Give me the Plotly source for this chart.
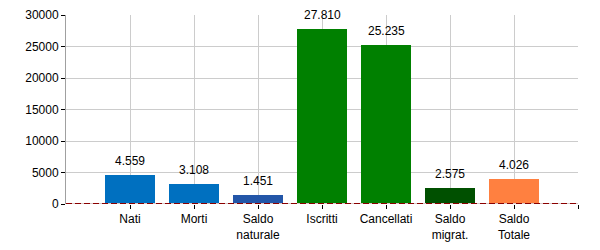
import plotly.graph_objects as go

categories = ["Nati", "Morti", "Saldo<br>naturale", "Iscritti", "Cancellati", "Saldo<br>migrat.", "Saldo<br>Totale"]
values = [4559, 3108, 1451, 27810, 25235, 2575, 4026]
colors = ["#0070C0", "#0070C0", "#2356A8", "#008000", "#008000", "#005000", "#FF8040"]
y_ticks = [0, 5000, 10000, 15000, 20000, 25000, 30000]

labels = [f"{v:,}".replace(",", ".") for v in values]
xs = list(range(len(categories)))

fig = go.Figure()
fig.add_trace(go.Bar(
    x=xs, y=values, marker=dict(color=colors, line=dict(width=0)),
    width=0.78, cliponaxis=True, hoverinfo="skip",
))
for x, v, t in zip(xs, values, labels):
    fig.add_annotation(x=x, y=v, xref="x", yref="y", text=t, showarrow=False,
                       yanchor="bottom", yshift=5,
                       font=dict(size=12, color="#000000"))
fig.add_shape(type="line", xref="x", yref="y", x0=-1, x1=7, y0=0, y1=0,
              layer="above", line=dict(color="#D8C8C8", width=2))
fig.add_shape(type="line", xref="x", yref="y", x0=-1, x1=7, y0=0, y1=0,
              layer="above", line=dict(color="#8B0000", width=2, dash="6px,3px"))

fig.update_layout(
    width=600, height=250,
    margin=dict(l=66, r=22, t=15, b=46, autoexpand=False),
    paper_bgcolor="white", plot_bgcolor="white",
    font=dict(family="Liberation Sans, Arial, sans-serif", size=12, color="#000000"),
    showlegend=False, bargap=0,
)
fig.update_xaxes(
    range=[-1, 7], tickmode="array", tickvals=xs + [7], ticktext=categories + [""],
    showgrid=True, gridcolor="#CCCCCC", gridwidth=1,
    ticks="outside", ticklen=4, tickcolor="#000000",
    showline=False, zeroline=False, tickfont=dict(size=12), automargin=False,
)
fig.update_yaxes(
    range=[0, 30000], tickvals=y_ticks, ticktext=[str(t) for t in y_ticks],
    showgrid=True, gridcolor="#CCCCCC", gridwidth=1,
    ticks="outside", ticklen=4, tickcolor="#000000",
    showline=True, linecolor="#A0A0A0", linewidth=1, zeroline=False,
    tickfont=dict(size=12), automargin=False,
)
fig.write_html("out.html")
